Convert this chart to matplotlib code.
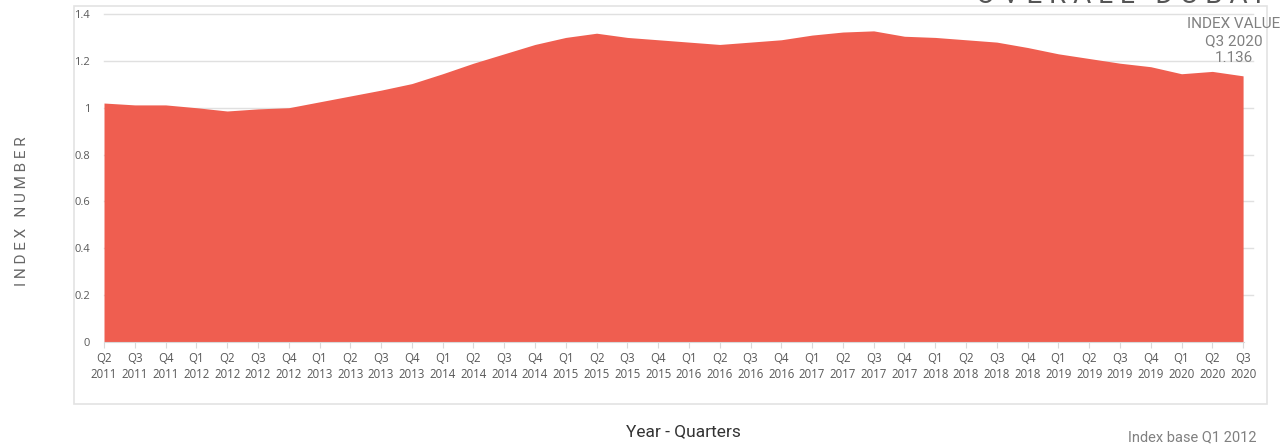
import numpy as np
import matplotlib.pyplot as plt
from matplotlib.patches import Rectangle

# quarterly index values, Q2 2011 .. Q3 2020 (base Q1 2012 = 1)
quarters = ['Q2', 'Q3', 'Q4'] + ['Q1', 'Q2', 'Q3', 'Q4'] * 8 + ['Q1', 'Q2', 'Q3']
years = ['2011'] * 3 + [str(y) for y in range(2012, 2020) for _ in range(4)] + ['2020'] * 3
index_values = [1.020, 1.012, 1.012, 1.000, 0.986, 0.995, 1.000,
                1.025, 1.050, 1.075, 1.103,
                1.145, 1.190, 1.230, 1.270,
                1.300, 1.318, 1.300, 1.290,
                1.280, 1.270, 1.280, 1.290,
                1.310, 1.323, 1.328, 1.305,
                1.300, 1.290, 1.280, 1.257,
                1.230, 1.210, 1.190, 1.175,
                1.145, 1.155, 1.136]
y_ticks = [0, 0.2, 0.4, 0.6, 0.8, 1, 1.2, 1.4]
y_tick_labels = ['0', '0.2', '0.4', '0.6', '0.8', '1', '1.2', '1.4']

x = np.arange(len(index_values))
labels = [q + '\n' + y for q, y in zip(quarters, years)]

W, H = 1284, 448
fig = plt.figure(figsize=(W / 100, H / 100), dpi=100)

# outer chart frame
fig.patches.append(Rectangle((74 / W, 1 - 404 / H), (1267 - 74) / W, (404 - 6) / H,
                             transform=fig.transFigure, fill=False,
                             edgecolor='#e3e3e3', linewidth=1.2))

ax = fig.add_axes([104 / W, 1 - 342 / H, (1244 - 104) / W, (342 - 14) / H])
ax.fill_between(x, index_values, 0, color='#ef5e50', linewidth=0, zorder=2)
ax.set_xlim(0, len(index_values) - 1 + 0.03)
ax.set_ylim(0, 1.4)

for v in y_ticks[1:]:
    ax.axhline(v, xmax=1.008, color='#e0e0e0', linewidth=1, zorder=1, clip_on=False)

for s in ['top', 'right', 'left']:
    ax.spines[s].set_visible(False)
ax.spines['bottom'].set_color('#d9d9d9')

ax.set_yticks(y_ticks)
ax.set_yticklabels(y_tick_labels, fontsize=8, color='#595959', family='Open Sans')
ax.tick_params(axis='y', length=0, pad=10)
ax.set_xticks(x)
ax.set_xticklabels(labels, fontsize=8.3, color='#595959', family='Open Sans', linespacing=1.3)
ax.tick_params(axis='x', length=4, color='#d9d9d9', pad=3)

fig.text(22 / W, 1 - 211 / H, 'I N D E X   N U M B E R', rotation=90, ha='center', va='center',
         fontsize=11, color='#666666', family='Roboto')
fig.text(683 / W, 1 - 432 / H, 'Year - Quarters', ha='center', va='center',
         fontsize=12.5, color='#333333', family='Roboto')
fig.text(1257 / W, 1 - 437 / H, 'Index base Q1 2012', ha='right', va='center',
         fontsize=10.5, color='#808080', family='Roboto')
fig.text(1234 / W, 1 - 41 / H, 'INDEX VALUE\nQ3 2020\n1.136', ha='center', va='center',
         fontsize=11, color='#808080', family='Roboto', linespacing=1.25)
fig.text(1262 / W, 1 - 3 / H, 'O V E R A L L   D U B A I', ha='right', va='baseline',
         fontsize=20, color='#555555', family='Roboto')

plt.savefig('out.png', dpi=100)
plt.close()
